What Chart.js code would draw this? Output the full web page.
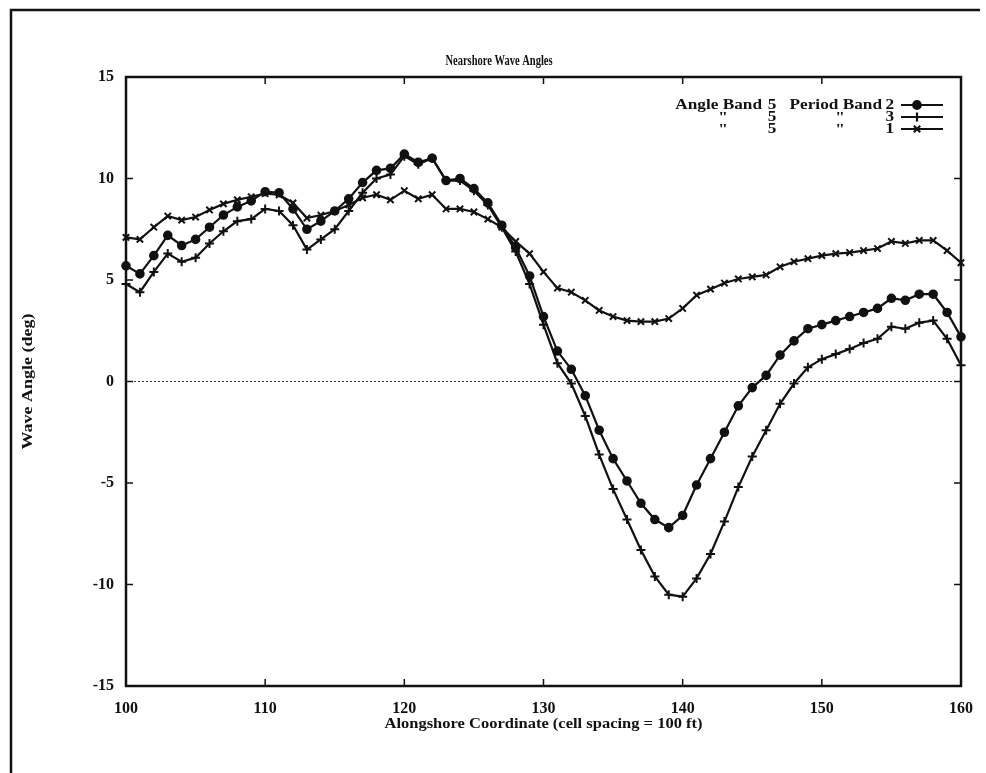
<!DOCTYPE html>
<html>
<head>
<meta charset="utf-8">
<title>Nearshore Wave Angles</title>
<script src="https://cdn.jsdelivr.net/npm/chart.js@4.4.1/dist/chart.umd.min.js"></script>
<style>
  html, body { margin: 0; padding: 0; background: #fff; }
  canvas { display: block; }
</style>
</head>
<body>
<canvas id="chart" width="986" height="773"></canvas>
<script>
// alongshore cell index
const cells = [100, 101, 102, 103, 104, 105, 106, 107, 108, 109,
  110, 111, 112, 113, 114, 115, 116, 117, 118, 119,
  120, 121, 122, 123, 124, 125, 126, 127, 128, 129,
  130, 131, 132, 133, 134, 135, 136, 137, 138, 139,
  140, 141, 142, 143, 144, 145, 146, 147, 148, 149,
  150, 151, 152, 153, 154, 155, 156, 157, 158, 159, 160];

// angle band 5, period band 2 (filled circles)
const period2 = [5.7, 5.3, 6.2, 7.2, 6.7, 7.0, 7.6, 8.2, 8.6, 8.9,
  9.35, 9.3, 8.5, 7.5, 7.9, 8.4, 9.0, 9.8, 10.4, 10.5,
  11.2, 10.8, 11.0, 9.9, 10.0, 9.5, 8.8, 7.7, 6.6, 5.2,
  3.2, 1.5, 0.6, -0.7, -2.4, -3.8, -4.9, -6.0, -6.8, -7.2,
  -6.6, -5.1, -3.8, -2.5, -1.2, -0.3, 0.3, 1.3, 2.0, 2.6,
  2.8, 3.0, 3.2, 3.4, 3.6, 4.1, 4.0, 4.3, 4.3, 3.4, 2.2];

// angle band 5, period band 3 (plus)
const period3 = [4.8, 4.4, 5.4, 6.3, 5.9, 6.1, 6.8, 7.4, 7.9, 8.0,
  8.5, 8.4, 7.7, 6.5, 7.0, 7.5, 8.4, 9.3, 10.0, 10.2,
  11.1, 10.7, 11.0, 9.9, 9.9, 9.4, 8.7, 7.6, 6.4, 4.8,
  2.8, 0.9, -0.1, -1.7, -3.6, -5.3, -6.8, -8.3, -9.6, -10.5,
  -10.6, -9.7, -8.5, -6.9, -5.2, -3.7, -2.4, -1.1, -0.1, 0.7,
  1.1, 1.35, 1.6, 1.9, 2.1, 2.7, 2.6, 2.9, 3.0, 2.1, 0.8];

// angle band 5, period band 1 (x marks)
const period1 = [7.1, 7.0, 7.6, 8.15, 7.95, 8.1, 8.45, 8.75, 8.95, 9.1,
  9.25, 9.2, 8.8, 8.05, 8.2, 8.4, 8.7, 9.05, 9.2, 8.95,
  9.4, 9.0, 9.2, 8.5, 8.5, 8.35, 8.0, 7.6, 6.9, 6.3,
  5.4, 4.6, 4.4, 4.0, 3.5, 3.2, 3.0, 2.95, 2.95, 3.1,
  3.6, 4.25, 4.55, 4.85, 5.05, 5.15, 5.25, 5.65, 5.9, 6.05,
  6.2, 6.3, 6.35, 6.45, 6.55, 6.9, 6.8, 6.95, 6.95, 6.45, 5.85];

const xTicks = [100, 110, 120, 130, 140, 150, 160];
const yTicks = [-15, -10, -5, 0, 5, 10, 15];

// legend rows: angle text, angle band, period text, period band
const legendAngle = ['Angle Band', '"', '"'];
const legendAngleBand = ['5', '5', '5'];
const legendPeriod = ['Period Band', '"', '"'];
const legendPeriodBand = ['2', '3', '1'];

const chartTitle = 'Nearshore Wave Angles';
const xTitle = 'Alongshore Coordinate (cell spacing = 100 ft)';
const yTitle = 'Wave Angle (deg)';

const INK = '#111';
const SERIF = '"Liberation Serif", "Times New Roman", serif';

function pts(ys) {
  return cells.map((x, i) => ({ x: x, y: ys[i] }));
}

// the scanned lettering is not plain Times width, so scale it sideways
function stretchText(ctx, text, x, y, align, sx) {
  ctx.save();
  ctx.translate(x, y);
  ctx.scale(sx, 1);
  ctx.textAlign = align;
  ctx.fillText(text, 0, 0);
  ctx.restore();
}

const series = [
  { label: 'period 2', data: period2, style: 'circle', radius: 3.8 },
  { label: 'period 3', data: period3, style: 'cross', radius: 4.5 },
  { label: 'period 1', data: period1, style: 'crossRot', radius: 4.5 }
];

const decor = {
  id: 'decor',
  beforeDatasetsDraw(chart) {
    const ctx = chart.ctx;
    const a = chart.chartArea;
    const y0 = chart.scales.y.getPixelForValue(0);
    ctx.save();
    ctx.strokeStyle = '#333';
    ctx.lineWidth = 1;
    ctx.setLineDash([2, 2]);
    ctx.beginPath();
    ctx.moveTo(a.left, y0);
    ctx.lineTo(a.right, y0);
    ctx.stroke();
    ctx.restore();
  },
  afterDraw(chart) {
    const ctx = chart.ctx;
    const a = chart.chartArea;
    const xs = chart.scales.x;
    const ys = chart.scales.y;
    ctx.save();
    ctx.strokeStyle = INK;
    ctx.fillStyle = INK;

    // page border
    ctx.lineWidth = 2.5;
    ctx.beginPath();
    ctx.moveTo(11, 773);
    ctx.lineTo(11, 10);
    ctx.lineTo(980, 10);
    ctx.stroke();

    // plot frame
    ctx.lineWidth = 2.5;
    ctx.strokeRect(a.left, a.top, a.right - a.left, a.bottom - a.top);

    // inward ticks on all four sides
    ctx.lineWidth = 1.5;
    ctx.beginPath();
    xTicks.forEach(v => {
      const px = xs.getPixelForValue(v);
      ctx.moveTo(px, a.bottom); ctx.lineTo(px, a.bottom - 7);
      ctx.moveTo(px, a.top); ctx.lineTo(px, a.top + 7);
    });
    yTicks.forEach(v => {
      const py = ys.getPixelForValue(v);
      ctx.moveTo(a.left, py); ctx.lineTo(a.left + 7, py);
      ctx.moveTo(a.right, py); ctx.lineTo(a.right - 7, py);
    });
    ctx.stroke();

    // titles
    ctx.textBaseline = 'middle';
    ctx.font = 'bold 14px ' + SERIF;
    stretchText(ctx, chartTitle, 499, 61, 'center', 0.75);
    ctx.font = 'bold 15px ' + SERIF;
    stretchText(ctx, xTitle, (a.left + a.right) / 2, 724, 'center', 1.1);
    ctx.save();
    ctx.translate(28, (a.top + a.bottom) / 2);
    ctx.rotate(-Math.PI / 2);
    stretchText(ctx, yTitle, 0, 0, 'center', 1.2);
    ctx.restore();

    // legend
    ctx.font = 'bold 15px ' + SERIF;
    const rowY = [105, 117, 129];
    series.forEach((s, i) => {
      const y = rowY[i];
      if (i === 0) {
        stretchText(ctx, legendAngle[i], 762, y, 'right', 1.15);
        stretchText(ctx, legendPeriod[i], 882, y, 'right', 1.15);
      } else {
        stretchText(ctx, legendAngle[i], 723, y + 1, 'center', 1.15);
        stretchText(ctx, legendPeriod[i], 840, y + 1, 'center', 1.15);
      }
      stretchText(ctx, legendAngleBand[i], 772, y, 'center', 1.15);
      stretchText(ctx, legendPeriodBand[i], 894, y, 'right', 1.15);
      ctx.lineWidth = 2.2;
      ctx.beginPath();
      ctx.moveTo(901, y);
      ctx.lineTo(943, y);
      ctx.stroke();
      Chart.helpers.drawPoint(ctx, {
        pointStyle: s.style, radius: s.radius, borderWidth: 2, rotation: 0
      }, 917, y);
    });
    ctx.restore();
  }
};

new Chart(document.getElementById('chart'), {
  type: 'line',
  data: {
    datasets: series.map(s => ({
      label: s.label,
      data: pts(s.data),
      borderColor: INK,
      backgroundColor: INK,
      borderWidth: 2.2,
      tension: 0,
      clip: false,
      pointStyle: s.style,
      pointRadius: s.radius,
      pointBorderWidth: 2,
      pointBackgroundColor: INK,
      pointBorderColor: INK
    }))
  },
  options: {
    responsive: false,
    animation: false,
    devicePixelRatio: 1,
    layout: { padding: { top: 77, right: 22, left: 0, bottom: 0 } },
    plugins: { legend: { display: false }, tooltip: { enabled: false } },
    scales: {
      x: {
        type: 'linear',
        min: 100,
        max: 160,
        afterFit: s => { s.height = 87; },
        afterBuildTicks: s => { s.ticks = xTicks.map(v => ({ value: v })); },
        grid: { display: false, drawTicks: false },
        border: { display: false },
        ticks: { color: INK, padding: 13, maxRotation: 0, font: { family: SERIF, size: 16, weight: 'bold' } }
      },
      y: {
        min: -15,
        max: 15,
        afterFit: s => { s.width = 126; },
        afterBuildTicks: s => { s.ticks = yTicks.map(v => ({ value: v })); },
        grid: { display: false, drawTicks: false },
        border: { display: false },
        ticks: { color: INK, padding: 12, font: { family: SERIF, size: 16, weight: 'bold' } }
      }
    }
  },
  plugins: [decor]
});
</script>
</body>
</html>
